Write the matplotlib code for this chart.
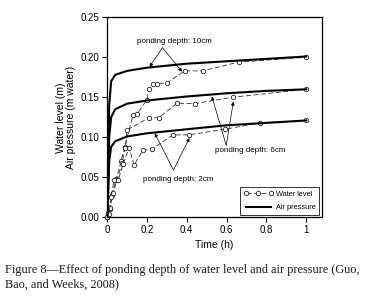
import matplotlib
matplotlib.use("Agg")
import matplotlib.pyplot as plt

plt.rcParams['font.family'] = ['Liberation Sans', 'DejaVu Sans']

# air pressure curves (time h, m water)
t_air = [0, 0.005, 0.01, 0.02, 0.04, 0.1, 0.2, 0.4, 0.6, 0.8, 1.0]
air_10 = [0, 0.06, 0.14, 0.170, 0.178, 0.183, 0.187, 0.192, 0.195, 0.198, 0.201]
air_6 = [0, 0.04, 0.10, 0.125, 0.135, 0.142, 0.146, 0.151, 0.155, 0.158, 0.160]
air_2 = [0, 0.03, 0.07, 0.088, 0.095, 0.101, 0.105, 0.110, 0.115, 0.118, 0.121]

# water level measurements
t_w10 = [0, 0.005, 0.012, 0.025, 0.045, 0.07, 0.088, 0.13, 0.15, 0.2, 0.21,
         0.23, 0.25, 0.3, 0.39, 0.48, 0.66, 1.0]
w_10 = [0, 0.004, 0.01, 0.028, 0.048, 0.07, 0.088, 0.128, 0.129, 0.147, 0.160,
        0.166, 0.167, 0.168, 0.183, 0.183, 0.194, 0.200]
t_w6 = [0, 0.006, 0.015, 0.03, 0.05, 0.075, 0.092, 0.1, 0.21, 0.26, 0.35,
        0.44, 0.63, 1.0]
w_6 = [0, 0.005, 0.012, 0.03, 0.047, 0.068, 0.087, 0.109, 0.1245, 0.1245,
       0.1425, 0.142, 0.150, 0.160]
t_w2 = [0, 0.008, 0.02, 0.035, 0.055, 0.08, 0.11, 0.135, 0.18, 0.225, 0.33,
        0.41, 0.59, 0.77, 1.0]
w_2 = [0, 0.004, 0.025, 0.047, 0.046, 0.066, 0.087, 0.065, 0.084, 0.085,
       0.103, 0.103, 0.110, 0.118, 0.121]

x_ticks = [0, 0.2, 0.4, 0.6, 0.8, 1.0]
x_labels = ["0", "0.2", "0.4", "0.6", "0.8", "1"]
y_ticks = [0.0, 0.05, 0.10, 0.15, 0.20, 0.25]

fig = plt.figure(figsize=(3.65, 3.06), dpi=100)
ax = fig.add_axes([0.292, 0.29, 0.589, 0.6535])

wl_style = dict(color="#333333", lw=0.6, ls=(0, (6, 3)), marker="o", ms=3.2,
                mfc="white", mec="#222222", mew=0.6, clip_on=False)
for t, w in [(t_w10, w_10), (t_w6, w_6), (t_w2, w_2)]:
    ax.plot(t, w, **wl_style)
wl_handle = ax.lines[0]

for a in [air_10, air_6, air_2]:
    ax.plot(t_air, a, color="black", lw=1.5, zorder=3)
air_handle = ax.lines[-1]

ax.set_xlim(-0.003, 1.077)
ax.set_ylim(0, 0.25)
ax.set_xticks(x_ticks)
ax.set_xticklabels(x_labels)
ax.set_yticks(y_ticks)
ax.set_yticklabels(["%.2f" % v for v in y_ticks])
ax.tick_params(labelsize=7, length=3.5, width=0.8, direction="out", pad=2)
for s in ax.spines.values():
    s.set_linewidth(0.9)

ax.set_xlabel("Time (h)", fontsize=7.5, labelpad=4)
ax.set_ylabel("Water level (m)\nAir pressure (m water)", fontsize=7.5,
              labelpad=3, linespacing=1.0)

arrow = dict(arrowstyle="-|>", color="black", lw=0.5, mutation_scale=5,
             shrinkA=0, shrinkB=0)
# 10cm
ax.text(0.34, 0.220, "ponding depth: 10cm", fontsize=5.8, ha="center", va="center")
for xy in [(0.213, 0.188), (0.376, 0.182)]:
    ax.annotate("", xy=xy, xytext=(0.278, 0.212), arrowprops=arrow)
# 6cm
ax.text(0.718, 0.084, "ponding depth: 6cm", fontsize=5.8, ha="center", va="center")
for xy in [(0.526, 0.151), (0.634, 0.1445)]:
    ax.annotate("", xy=xy, xytext=(0.598, 0.090), arrowprops=arrow)
# 2cm
ax.text(0.359, 0.047, "ponding depth: 2cm", fontsize=5.8, ha="center", va="center")
for xy in [(0.239, 0.105), (0.413, 0.099)]:
    ax.annotate("", xy=xy, xytext=(0.333, 0.059), arrowprops=arrow)

leg = ax.legend([wl_handle, air_handle], ["Water level", "Air pressure"],
                loc="lower right", fontsize=5.3, frameon=True, fancybox=False,
                edgecolor="black", handlelength=4.0, numpoints=3,
                borderaxespad=0.3, handletextpad=0.4, borderpad=0.5,
                labelspacing=0.9)
leg.get_frame().set_linewidth(0.7)

cap_style = dict(fontsize=8.8, family="Liberation Serif", color="#1a1a1a",
                 va="center")
fig.text(0.014, 0.118, "Figure 8\u2014Effect of ponding depth of water level and air pressure (Guo,",
         **cap_style)
fig.text(0.014, 0.072, "Bao, and Weeks, 2008)", **cap_style)

fig.savefig("out.png", dpi=100)
